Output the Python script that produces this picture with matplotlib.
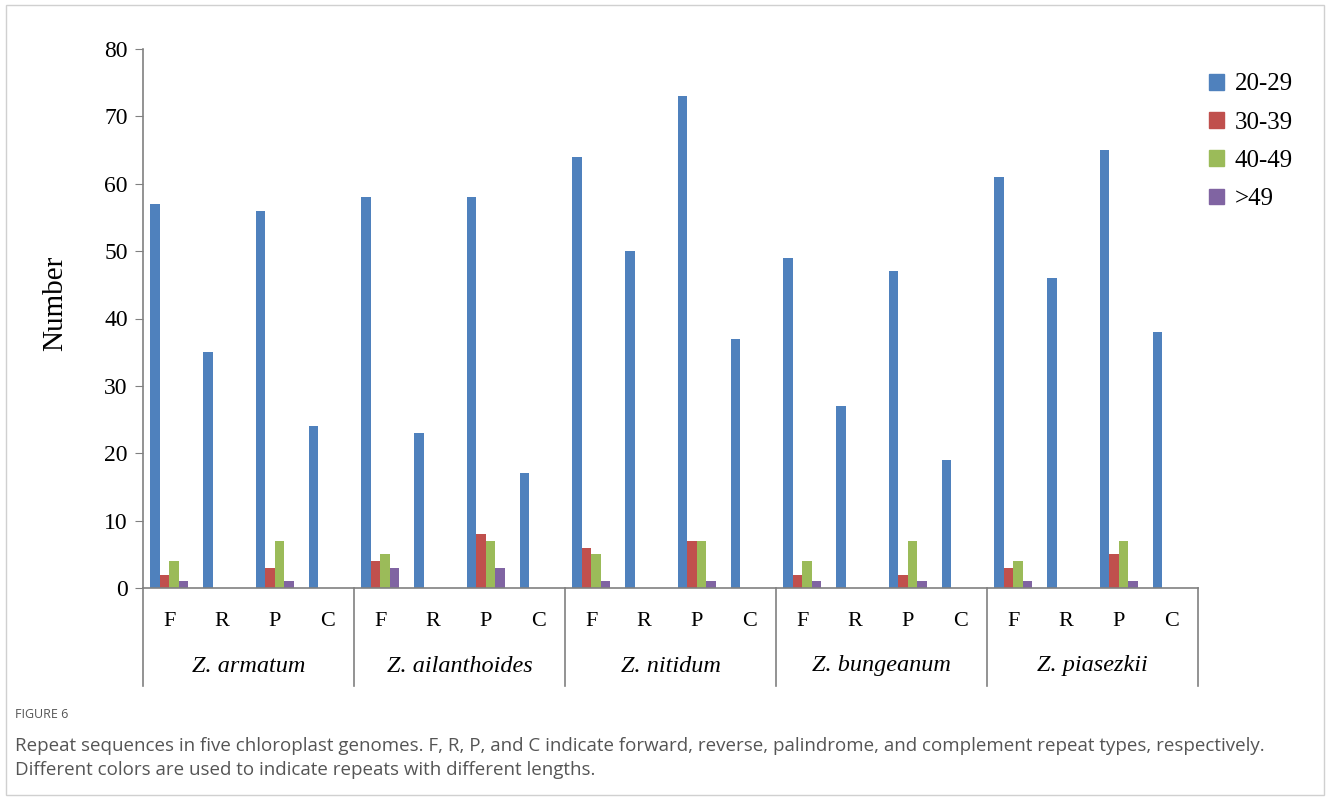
import numpy as np
import matplotlib
matplotlib.use('Agg')
import matplotlib.pyplot as plt
from matplotlib.patches import Rectangle

# repeat counts per species, order of types: F, R, P, C
species = ['Z. armatum', 'Z. ailanthoides', 'Z. nitidum', 'Z. bungeanum', 'Z. piasezkii']
types = ['F', 'R', 'P', 'C']
len_labels = ['20-29', '30-39', '40-49', '>49']

n20_29 = [57, 35, 56, 24,  58, 23, 58, 17,  64, 50, 73, 37,  49, 27, 47, 19,  61, 46, 65, 38]
n30_39 = [2, 0, 3, 0,  4, 0, 8, 0,  6, 0, 7, 0,  2, 0, 2, 0,  3, 0, 5, 0]
n40_49 = [4, 0, 7, 0,  5, 0, 7, 0,  5, 0, 7, 0,  4, 0, 7, 0,  4, 0, 7, 0]
n_gt49 = [1, 0, 1, 0,  3, 0, 3, 0,  1, 0, 1, 0,  1, 0, 1, 0,  1, 0, 1, 0]

colors = ['#4F81BD', '#C0504D', '#9BBB59', '#8064A2']
serif = 'Liberation Serif'

fig = plt.figure(figsize=(13.3, 8), dpi=100)
ax = fig.add_axes([143/1330, 1-588/800, (1198-143)/1330, (588-49)/800])

x = np.arange(len(n20_29))
w = 0.18
series = [n20_29, n30_39, n40_49, n_gt49]
for k, vals in enumerate(series):
    ax.bar(x + (k - 1.5)*w, vals, w, color=colors[k], label=len_labels[k])

ax.set_xlim(-0.5, len(x) - 0.5)
ax.set_ylim(0, 80)
ax.set_yticks(np.arange(0, 81, 10))
for lab in ax.get_yticklabels():
    lab.set_fontfamily(serif)
    lab.set_fontsize(17)
ax.tick_params(axis='y', length=6, color='#808080', pad=5)
ax.tick_params(axis='x', length=0)
ax.set_xticks([])
for s in ['top', 'right']:
    ax.spines[s].set_visible(False)
for s in ['left', 'bottom']:
    ax.spines[s].set_color('#808080')
    ax.spines[s].set_linewidth(1.2)

# y label
fig.text(55/1330, 1-303/800, 'Number', rotation=90, ha='center', va='center',
         fontfamily=serif, fontsize=21)

# category labels under the axis
tr = ax.get_xaxis_transform()
for i in x:
    ax.text(i, -(621-588)/539, types[i % 4], transform=tr, ha='center', va='center',
            fontfamily=serif, fontsize=16)
for g, name in enumerate(species):
    ax.text(g*4 + 1.5, -(666-588)/539, name, transform=tr, ha='center', va='center',
            fontfamily=serif, fontsize=17.5, style='italic')
for g in range(len(species) + 1):
    ax.plot([g*4 - 0.5, g*4 - 0.5], [0, -(686-588)/539], transform=tr, color='#808080',
            lw=1.2, clip_on=False)

# legend
handles = [Rectangle((0, 0), 1, 1, color=c) for c in colors]
fig.legend(handles, len_labels, loc='upper left', bbox_to_anchor=(1186/1330, 1-51/800),
           frameon=False, prop={'family': serif, 'size': 18}, handlelength=0.6,
           handleheight=0.6, handletextpad=0.45, labelspacing=0.65)

# caption
fig.text(15/1330, 1-714/800, 'FIGURE 6', fontfamily='Open Sans', fontsize=9,
         color='#555555', va='center')
fig.text(15/1330, 1-746/800, 'Repeat sequences in five chloroplast genomes. F, R, P, and C indicate forward, '
         'reverse, palindrome, and complement repeat types, respectively.',
         fontfamily='Open Sans', fontsize=13.5, color='#555555', va='center')
fig.text(15/1330, 1-770/800, 'Different colors are used to indicate repeats with different lengths.',
         fontfamily='Open Sans', fontsize=13.5, color='#555555', va='center')

fig.patches.append(Rectangle((6/1330, 5/800), 1 - 12/1330, 1 - 10/800, transform=fig.transFigure,
                             fill=False, edgecolor='#d0d0d0', lw=1))

fig.savefig('out.png', dpi=100)
